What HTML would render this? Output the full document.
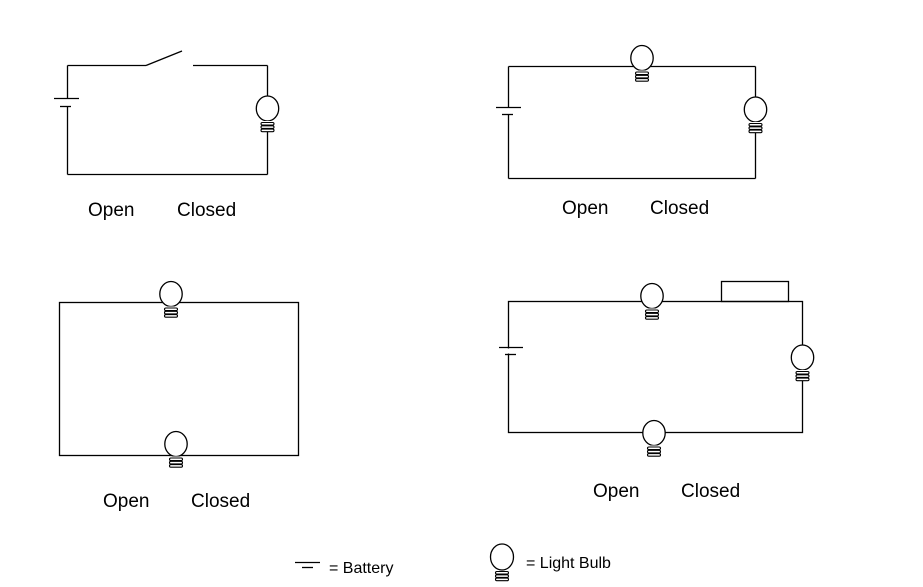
<!DOCTYPE html>
<html>
<head>
<meta charset="utf-8">
<style>
  html,body{margin:0;padding:0;background:#fff;}
  svg{display:block;}
  text{font-family:"Liberation Sans",Arial,sans-serif;fill:#000;}
</style>
</head>
<body>
<svg width="923" height="587" viewBox="0 0 923 587" xmlns="http://www.w3.org/2000/svg">
  <defs>
    <g id="bulb">
      <ellipse cx="0" cy="0" rx="11.2" ry="12.5" fill="#fff" stroke="#000" stroke-width="1.3"/>
      <rect x="-7" y="12.5" width="14" height="11" fill="#fff" stroke="none"/>
      <rect x="-6.5" y="14" width="13" height="2.6" rx="1.3" fill="#fff" stroke="#000" stroke-width="1.1"/>
      <rect x="-6.5" y="17.3" width="13" height="2.6" rx="1.3" fill="#fff" stroke="#000" stroke-width="1.1"/>
      <rect x="-6.5" y="20.6" width="13" height="2.6" rx="1.3" fill="#fff" stroke="#000" stroke-width="1.1"/>
    </g>
  </defs>
  <rect width="923" height="587" fill="#fff"/>

  <g stroke="#000" stroke-width="1.3" fill="none">
    <!-- Circuit 1 -->
    <line x1="67.5" y1="65.5" x2="146" y2="65.5"/>
    <line x1="146" y1="65.5" x2="182" y2="51"/>
    <line x1="193" y1="65.5" x2="267.5" y2="65.5"/>
    <line x1="67.5" y1="65.5" x2="67.5" y2="98.5"/>
    <line x1="67.5" y1="106.5" x2="67.5" y2="174.5"/>
    <line x1="54" y1="98.5" x2="79" y2="98.5"/>
    <line x1="60" y1="106.5" x2="71" y2="106.5"/>
    <line x1="67.5" y1="174.5" x2="267.5" y2="174.5"/>
    <line x1="267.5" y1="65.5" x2="267.5" y2="174.5"/>

    <!-- Circuit 2 -->
    <line x1="508.5" y1="66.5" x2="755.5" y2="66.5"/>
    <line x1="508.5" y1="178.5" x2="755.5" y2="178.5"/>
    <line x1="755.5" y1="66.5" x2="755.5" y2="178.5"/>
    <line x1="508.5" y1="66.5" x2="508.5" y2="107.5"/>
    <line x1="508.5" y1="114.5" x2="508.5" y2="178.5"/>
    <line x1="496" y1="107.5" x2="521" y2="107.5"/>
    <line x1="502" y1="114.5" x2="513" y2="114.5"/>

    <!-- Circuit 3 -->
    <rect x="59.5" y="302.5" width="239" height="153"/>

    <!-- Circuit 4 -->
    <rect x="508.5" y="301.5" width="294" height="131"/>
    <rect x="721.5" y="281.5" width="67" height="20"/>
  </g>
  <!-- battery gap in circuit 4 -->
  <rect x="506" y="348.5" width="5" height="5" fill="#fff"/>
  <g stroke="#000" stroke-width="1.3">
    <line x1="499" y1="347.5" x2="523" y2="347.5"/>
    <line x1="505" y1="354.5" x2="516" y2="354.5"/>
    <!-- Legend battery -->
    <line x1="295" y1="562.5" x2="320" y2="562.5"/>
    <line x1="302" y1="567.5" x2="313" y2="567.5"/>
  </g>

  <!-- Bulbs -->
  <use href="#bulb" x="267.5" y="108.5"/>
  <use href="#bulb" x="642" y="58"/>
  <use href="#bulb" x="755.5" y="109.5"/>
  <use href="#bulb" x="171" y="294"/>
  <use href="#bulb" x="176" y="444"/>
  <use href="#bulb" x="652" y="296"/>
  <use href="#bulb" x="802.5" y="357.5"/>
  <use href="#bulb" x="654" y="433"/>

  <!-- Legend bulb -->
  <g stroke="#000" fill="#fff">
    <ellipse cx="502" cy="557" rx="11.5" ry="13" stroke-width="1.3"/>
    <rect x="495.5" y="571.5" width="13" height="2.6" rx="1.3" stroke-width="1.1"/>
    <rect x="495.5" y="574.8" width="13" height="2.6" rx="1.3" stroke-width="1.1"/>
    <rect x="495.5" y="578.1" width="13" height="2.6" rx="1.3" stroke-width="1.1"/>
  </g>

  <!-- Labels -->
  <g font-size="19">
    <text x="88" y="216">Open</text>
    <text x="177" y="216">Closed</text>
    <text x="562" y="214">Open</text>
    <text x="650" y="214">Closed</text>
    <text x="103" y="507">Open</text>
    <text x="191" y="507">Closed</text>
    <text x="593" y="497">Open</text>
    <text x="681" y="497">Closed</text>
  </g>
  <g font-size="16">
    <text x="329" y="573">= Battery</text>
    <text x="526" y="568">= Light Bulb</text>
  </g>
</svg>
</body>
</html>
